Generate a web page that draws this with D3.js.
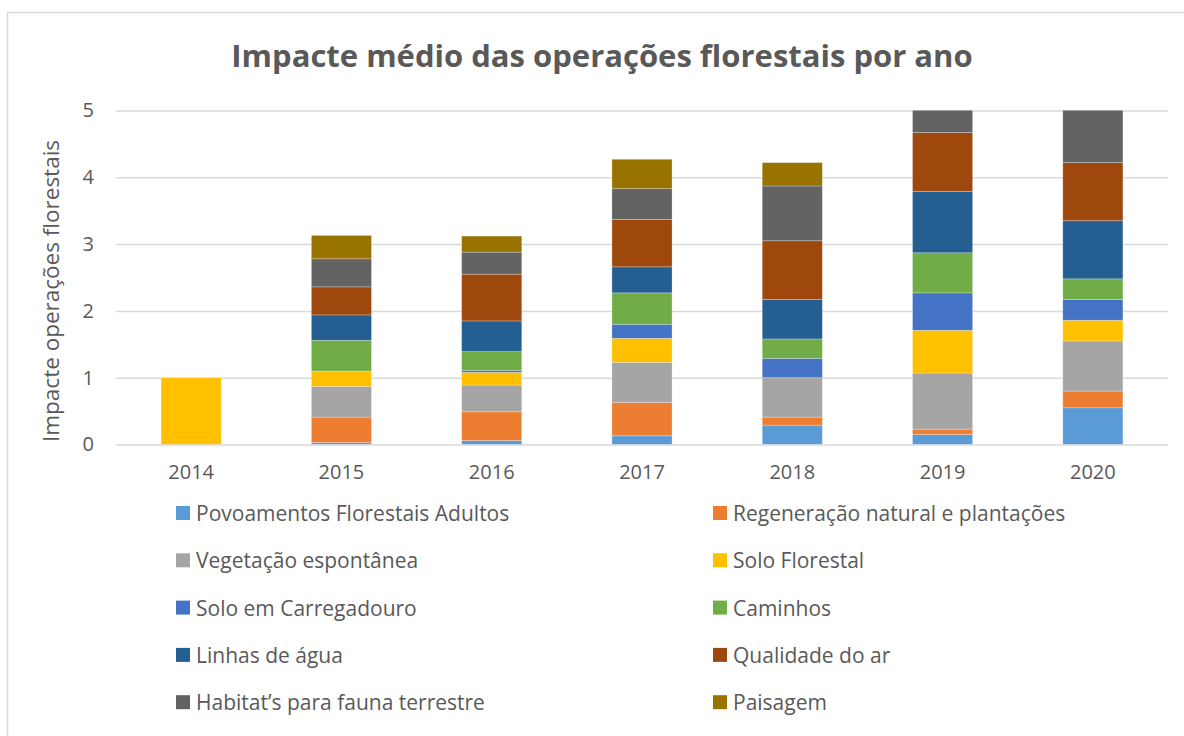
<!DOCTYPE html>
<html>
<head>
<meta charset="utf-8">
<script src="https://cdn.jsdelivr.net/npm/d3@7"></script>
<style>
body { margin: 0; background: #fff; }
text { font-family: "Open Sans", "Noto Sans", sans-serif; fill: #595959; }
</style>
</head>
<body>
<svg></svg>
<script>
// years and series
var years = ["2014", "2015", "2016", "2017", "2018", "2019", "2020"];
var seriesNames = [
    "Povoamentos Florestais Adultos",
    "Regeneração natural e plantações",
    "Vegetação espontânea",
    "Solo Florestal",
    "Solo em Carregadouro",
    "Caminhos",
    "Linhas de água",
    "Qualidade do ar",
    "Habitat’s para fauna terrestre",
    "Paisagem"
];
var seriesColors = ["#5B9BD5", "#ED7D31", "#A5A5A5", "#FFC000", "#4472C4",
                    "#70AD47", "#255E91", "#9E480E", "#636363", "#997300"];

var povoamentos  = [0, 0.03, 0.06, 0.13, 0.29, 0.15, 0.55];
var regeneracao  = [0, 0.38, 0.43, 0.50, 0.12, 0.08, 0.25];
var vegetacao    = [0, 0.46, 0.40, 0.60, 0.59, 0.84, 0.75];
var soloFlorestal = [1.0, 0.23, 0.19, 0.36, 0, 0.64, 0.31];
var soloCarreg   = [0, 0, 0.03, 0.21, 0.29, 0.56, 0.31];
var caminhos     = [0, 0.46, 0.28, 0.47, 0.29, 0.60, 0.31];
var linhasAgua   = [0, 0.38, 0.46, 0.39, 0.59, 0.92, 0.87];
var qualidadeAr  = [0, 0.42, 0.70, 0.71, 0.88, 0.88, 0.87];
var habitat      = [0, 0.42, 0.33, 0.46, 0.82, 0.45, 0.85];
var paisagem     = [0, 0.35, 0.24, 0.44, 0.35, 0.30, 0.40];

var yTicks = [0, 1, 2, 3, 4, 5];

var seriesValues = [povoamentos, regeneracao, vegetacao, soloFlorestal, soloCarreg,
                    caminhos, linhasAgua, qualidadeAr, habitat, paisagem];

var screen = {width:1184, height:736};
var margins = {left:116, right:16, top:110.5, bottom:291.5};
var graph = {
    width: screen.width - margins.left - margins.right,
    height: screen.height - margins.top - margins.bottom
};

var svg = d3.select("svg")
    .attr("width", screen.width)
    .attr("height", screen.height);

// chart frame
svg.append("rect")
    .attr("x", 7.5).attr("y", 12.5)
    .attr("width", screen.width + 10).attr("height", screen.height + 10)
    .attr("fill", "none")
    .attr("stroke", "#d9d9d9")
    .attr("stroke-width", 1.5);

svg.append("text")
    .attr("x", 602).attr("y", 55)
    .attr("text-anchor", "middle")
    .attr("dominant-baseline", "central")
    .style("font-size", "31px")
    .style("font-weight", "bold")
    .text("Impacte médio das operações florestais por ano");

var target = svg.append("g")
    .attr("id", "graph")
    .attr("transform", "translate(" + margins.left + "," + margins.top + ")");

var xScale = d3.scaleBand()
    .domain(years)
    .range([0, graph.width])
    .paddingInner(0.6)
    .paddingOuter(0.3);

var yScale = d3.scaleLinear()
    .domain([0, 5])
    .range([graph.height, 0]);

// gridlines
target.append("g")
    .call(d3.axisLeft(yScale).tickValues(yTicks).tickSize(-graph.width).tickFormat(""))
    .call(function(g) { g.select(".domain").remove(); })
    .selectAll("line")
    .attr("stroke", "#d9d9d9")
    .attr("stroke-width", 1.5);

// y labels
var yAxis = target.append("g")
    .call(d3.axisLeft(yScale).tickValues(yTicks).tickSize(0).tickPadding(22).tickFormat(d3.format("d")));
yAxis.select(".domain").remove();
yAxis.selectAll("text")
    .style("font-size", "20px")
    .style("fill", "#595959")
    .style("font-family", "'Open Sans', sans-serif");

// stacked data
var table = years.map(function(y, i) {
    var row = {year: y};
    seriesNames.forEach(function(s, j) { row[s] = seriesValues[j][i]; });
    return row;
});
var stacked = d3.stack().keys(seriesNames)(table);

target.append("clipPath").attr("id", "plotclip")
    .append("rect")
    .attr("x", 0).attr("y", 0)
    .attr("width", graph.width).attr("height", graph.height);

var bars = target.append("g").attr("clip-path", "url(#plotclip)");
bars.selectAll("g")
    .data(stacked)
    .enter()
    .append("g")
    .attr("fill", function(d, i) { return seriesColors[i]; })
    .selectAll("rect")
    .data(function(d) { return d; })
    .enter()
    .append("rect")
    .attr("x", function(d) { return xScale(d.data.year); })
    .attr("width", xScale.bandwidth())
    .attr("y", function(d) { return yScale(d[1]); })
    .attr("height", function(d) { return yScale(d[0]) - yScale(d[1]); })
    .attr("stroke", "#ffffff")
    .attr("stroke-opacity", 0.35)
    .attr("stroke-width", 0.75);

// x labels
var xAxis = target.append("g")
    .attr("transform", "translate(0," + graph.height + ")")
    .call(d3.axisBottom(xScale).tickSize(0).tickPadding(20));
xAxis.select(".domain").remove();
xAxis.selectAll("text")
    .style("font-size", "20px")
    .style("fill", "#595959")
    .style("font-family", "'Open Sans', sans-serif");

// y title
svg.append("text")
    .attr("transform", "translate(50,291) rotate(-90)")
    .attr("text-anchor", "middle")
    .attr("dominant-baseline", "central")
    .style("font-size", "22.5px")
    .text("Impacte operações florestais");

// legend, two columns
var legend = svg.append("g");
var items = legend.selectAll("g")
    .data(seriesNames)
    .enter()
    .append("g")
    .attr("transform", function(d, i) {
        var col = i % 2, row = Math.floor(i / 2);
        return "translate(" + (col == 0 ? 176 : 713) + "," + (513 + row * 47.3) + ")";
    });
items.append("rect")
    .attr("x", 0).attr("y", -7)
    .attr("width", 14).attr("height", 14)
    .attr("fill", function(d, i) { return seriesColors[i]; });
items.append("text")
    .attr("x", 20).attr("y", 0)
    .attr("dominant-baseline", "central")
    .style("font-size", "21px")
    .text(function(d) { return d; });
</script>
</body>
</html>
